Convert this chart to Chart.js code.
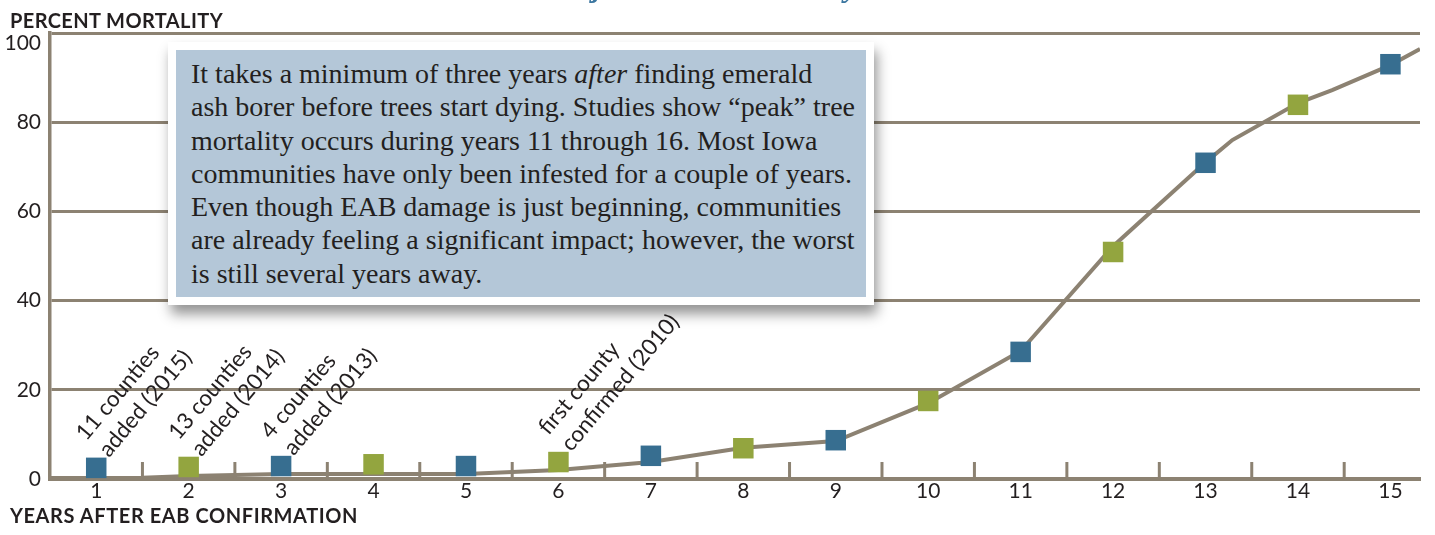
<!DOCTYPE html>
<html><head><meta charset="utf-8">
<script src="https://cdn.jsdelivr.net/npm/chart.js@4/dist/chart.umd.min.js"></script>
<style>
html,body{margin:0;padding:0;background:#fff;}
#wrap{position:relative;width:1435px;height:535px;overflow:hidden;background:#fff;}
#cv{position:absolute;left:0;top:0;width:1435px;height:535px;}
.ttl{position:absolute;left:450px;top:-31px;font-family:'Liberation Serif';font-weight:bold;font-style:italic;font-size:32px;line-height:32px;color:#3b76a0;white-space:nowrap;}
.axt{position:absolute;left:10px;font-family:Lato;font-weight:bold;font-size:20px;line-height:20px;color:#231f20;white-space:nowrap;}
#boxOuter{position:absolute;left:168px;top:42px;padding:8px;background:#fff;box-shadow:3px 9px 12px rgba(0,0,0,0.42);}
#box{width:690px;height:247px;background:#b4c7d8;box-sizing:border-box;padding:7px 0 0 15px;font-family:'Liberation Serif';font-size:28px;line-height:33.3px;color:#231f20;white-space:nowrap;}
</style></head>
<body>
<div id="wrap">
  <div id="cv"><canvas id="c"></canvas></div>
  <div class="ttl">Iowa's Projected Ash Mortality Timeline</div>
  <div class="axt" id="yt" style="top:10px">PERCENT MORTALITY</div>
  <div class="axt" id="xt" style="top:505px">YEARS AFTER EAB CONFIRMATION</div>
  <div id="boxOuter"><div id="box">It takes a minimum of three years <i>after</i> finding emerald<br>ash borer before trees start dying. Studies show “peak” tree<br>mortality occurs during years 11 through 16. Most Iowa<br>communities have only been infested for a couple of years.<br>Even though EAB damage is just beginning, communities<br>are already feeling a significant impact; however, the worst<br>is still several years away.</div></div>
</div>
<script>
// ---- data ----
const years = [1,2,3,4,5,6,7,8,9,10,11,12,13,14,15];
const markerVals = [2.5,2.7,2.9,3.3,2.9,3.8,5.2,6.9,8.7,17.5,28.5,50.9,70.9,83.9,93.0];
const lineX = [0.5,1.5,2,3,4,5,6,7,8,9,10,11,12,13,13.29,14,14.37,15,15.32];
const lineY = [0.2,0.3,0.7,1.1,1.1,1.1,2.0,3.8,7.0,8.5,17.0,28.7,52.2,71.0,76.0,84.3,87.2,92.8,96.4];
const yTicks = [0,20,40,60,80,100];
const annCats = [1,2,3,6];
const annLine1 = ['11 counties','13 counties','4 counties','first county'];
const annLine2 = ['added (2015)','added (2014)','added (2013)','confirmed (2010)'];

// ---- styles ----
const GRID = '#8c8272';
const TXT = '#231f20';
const BLUE = '#376e90';
const GREEN = '#93a53f';

const tickPlugin = {
  id: 'tickMarks',
  beforeDatasetsDraw(chart) {
    const {ctx, scales: {x, y}} = chart;
    const y0 = y.getPixelForValue(0);
    ctx.save();
    ctx.strokeStyle = GRID; ctx.lineWidth = 3;
    for (let i = 0; i < years.length - 1; i++) {
      const px = x.getPixelForValue((years[i] + years[i+1]) / 2);
      ctx.beginPath(); ctx.moveTo(px, y0); ctx.lineTo(px, y0 - 17); ctx.stroke();
    }
    ctx.restore();
  }
};

const annPlugin = {
  id: 'annots',
  afterDatasetsDraw(chart) {
    const {ctx, scales: {x, y}} = chart;
    ctx.save();
    ctx.fillStyle = TXT;
    ctx.font = '22.5px Lato';
    ctx.textBaseline = 'alphabetic';
    annCats.forEach((c, i) => {
      const px = x.getPixelForValue(c) - 10;
      const py = y.getPixelForValue(markerVals[years.indexOf(c)]) - 26;
      ctx.save();
      ctx.translate(px, py);
      ctx.rotate(-50 * Math.PI / 180);
      ctx.fillText(annLine1[i], 0, 0);
      ctx.fillText(annLine2[i], 2, 28);
      ctx.restore();
    });
    ctx.restore();
  }
};

new Chart(document.getElementById('c'), {
  type: 'scatter',
  data: {
    datasets: [
      {
        label: 'markers',
        data: years.map((v, i) => ({x: v, y: markerVals[i]})),
        pointStyle: 'rect',
        pointRadius: 14.5,
        pointHoverRadius: 14.5,
        borderWidth: 0,
        backgroundColor: ctx => (ctx.dataIndex % 2 ? GREEN : BLUE),
        showLine: false,
        order: 0
      },
      {
        label: 'line',
        data: lineX.map((v, i) => ({x: v, y: lineY[i]})),
        showLine: true,
        borderColor: GRID,
        borderWidth: 4,
        pointRadius: 0,
        tension: 0,
        order: 1
      }
    ]
  },
  options: {
    responsive: true,
    maintainAspectRatio: false,
    animation: false,
    events: [],
    layout: {padding: {top: 33, right: 15, left: 0, bottom: 0}},
    plugins: {legend: {display: false}, tooltip: {enabled: false}, title: {display: false}},
    scales: {
      x: {
        type: 'linear', min: 0.5, max: 15.32,
        afterBuildTicks: s => { s.ticks = years.map(v => ({value: v})); },
        afterFit: s => { s.height = 56; },
        grid: {display: false, drawTicks: false},
        border: {display: true, color: GRID, width: 4},
        ticks: {font: {family: 'Lato', size: 21}, color: TXT, padding: 0, autoSkip: false, maxRotation: 0, callback: v => String(v)}
      },
      y: {
        type: 'linear', min: 0, max: 100,
        afterBuildTicks: s => { s.ticks = yTicks.map(v => ({value: v})); },
        afterFit: s => { s.width = 50; },
        grid: {color: GRID, lineWidth: 3, drawTicks: false},
        border: {display: true, color: GRID, width: 3.5},
        ticks: {font: {family: 'Lato', size: 21, lineHeight: 0.95}, color: TXT, padding: 9,
                callback: v => (v === 100 ? ['', '100'] : String(v))}
      }
    }
  },
  plugins: [tickPlugin, annPlugin]
});

// fit axis-title widths to the reference
function fitWidth(id, target) {
  const el = document.getElementById(id);
  const n = el.textContent.length;
  const w = el.getBoundingClientRect().width;
  el.style.letterSpacing = ((target - w) / n) + 'px';
}
fitWidth('yt', 213);
fitWidth('xt', 348);
</script>
</body></html>
